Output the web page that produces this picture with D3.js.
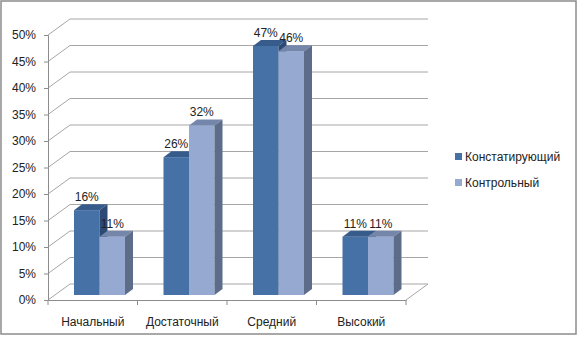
<!DOCTYPE html>
<html>
<head>
<meta charset="utf-8">
<script src="https://cdn.jsdelivr.net/npm/d3@7"></script>
<style>
  body { margin: 0; background: #fff; }
  svg text { font-family: "Liberation Sans", Arial, sans-serif; fill: #222; }
</style>
</head>
<body>
<script>
// chart data
var categories = ["Начальный", "Достаточный", "Средний", "Высокий"];
var seriesNames = ["Констатирующий", "Контрольный"];
var constat = [16, 26, 47, 11];
var control = [11, 32, 46, 11];
var yTicks = [0, 5, 10, 15, 20, 25, 30, 35, 40, 45, 50];

var W = 578, H = 338;
var colors = [
    { front: "#4571a6", top: "#375b8b", side: "#2d4a74" },
    { front: "#95a9d1", top: "#7487ab", side: "#5d6c89" }
];

var svg = d3.select("body").append("svg")
    .attr("width", W)
    .attr("height", H);

// outer frame
svg.append("rect")
    .attr("x", 1).attr("y", 1)
    .attr("width", 575).attr("height", 333)
    .attr("fill", "#fff")
    .attr("stroke", "#8c8c8c")
    .attr("stroke-width", 1.5);

// scales
var x = d3.scaleBand().domain(categories).range([48, 406]);
var y = d3.scaleLinear().domain([0, 50]).range([300, 35]);

// wall depth and bar depth
var depth = { dx: 22, dy: -16 };
var barPlane = { dx: 0, dy: -5 };
var barDepth = { dx: 8, dy: -6 };
var barOffset = 26, barWidth = 25.5;

// gridlines: side wall diagonal + back wall line
var grid = svg.append("g").attr("stroke", "#a6a6a6").attr("fill", "none");
yTicks.forEach(function (t) {
    var yf = y(t);
    grid.append("line")
        .attr("x1", x.range()[0]).attr("y1", yf)
        .attr("x2", x.range()[0] + depth.dx).attr("y2", yf + depth.dy);
    grid.append("line")
        .attr("x1", x.range()[0] + depth.dx).attr("y1", yf + depth.dy)
        .attr("x2", x.range()[1] + depth.dx).attr("y2", yf + depth.dy);
});
// floor right edge
grid.append("line")
    .attr("x1", x.range()[1]).attr("y1", y(0))
    .attr("x2", x.range()[1] + depth.dx).attr("y2", y(0) + depth.dy);

// y axis
var yAxis = d3.axisLeft(y)
    .tickValues(yTicks)
    .tickSize(4)
    .tickFormat(function (d) { return d + "%"; });
var gy = svg.append("g")
    .attr("transform", "translate(" + x.range()[0] + ",0)")
    .call(yAxis);
gy.select(".domain").attr("stroke", "#8c8c8c");
gy.selectAll(".tick line").attr("stroke", "#8c8c8c");
gy.selectAll(".tick text")
    .attr("x", -12)
    .style("font-size", "12px");

// x axis
var xAxis = d3.axisBottom(x).tickSize(0).tickSizeOuter(0);
var gx = svg.append("g")
    .attr("transform", "translate(0," + y(0) + ")")
    .call(xAxis);
gx.select(".domain").attr("stroke", "#8c8c8c");
gx.selectAll(".tick text")
    .attr("y", 17)
    .style("font-size", "12px");
// category boundary ticks
var bounds = categories.map(function (c) { return x(c); }).concat([x.range()[1]]);
svg.append("g").selectAll("line")
    .data(bounds)
    .enter().append("line")
    .attr("x1", function (d) { return d; })
    .attr("x2", function (d) { return d; })
    .attr("y1", y(0))
    .attr("y2", y(0) + 5)
    .attr("stroke", "#8c8c8c");

// bars
var bars = svg.append("g");
categories.forEach(function (c, i) {
    [constat[i], control[i]].forEach(function (v, s) {
        var col = colors[s];
        var x0 = x(c) + barOffset + s * barWidth + barPlane.dx;
        var x1 = x0 + barWidth;
        var yb = y(0) + barPlane.dy;
        var yt = y(v) + barPlane.dy;
        var ddx = barDepth.dx, ddy = barDepth.dy;

        bars.append("rect")
            .attr("x", x0).attr("y", yt)
            .attr("width", barWidth).attr("height", yb - yt)
            .attr("fill", col.front);
        bars.append("polygon")
            .attr("points", [[x0, yt], [x1, yt], [x1 + ddx, yt + ddy], [x0 + ddx, yt + ddy]].join(" "))
            .attr("fill", col.top);
        bars.append("polygon")
            .attr("points", [[x1, yt], [x1 + ddx, yt + ddy], [x1 + ddx, yb + ddy], [x1, yb]].join(" "))
            .attr("fill", col.side);
    });
});

// data labels
var labels = svg.append("g");
categories.forEach(function (c, i) {
    [constat[i], control[i]].forEach(function (v, s) {
        var xc = x(c) + barOffset + s * barWidth + barPlane.dx + barWidth / 2;
        labels.append("text")
            .attr("x", xc)
            .attr("y", y(v) + barPlane.dy - 9)
            .attr("text-anchor", "middle")
            .style("font-size", "12px")
            .text(v + "%");
    });
});

// legend
var legend = svg.append("g").attr("transform", "translate(455,153)");
seriesNames.forEach(function (n, s) {
    var g = legend.append("g").attr("transform", "translate(0," + s * 26 + ")");
    g.append("rect")
        .attr("width", 7).attr("height", 7)
        .attr("fill", colors[s].front);
    g.append("text")
        .attr("x", 10).attr("y", 7.5)
        .style("font-size", "12px")
        .text(n);
});
</script>
</body>
</html>
